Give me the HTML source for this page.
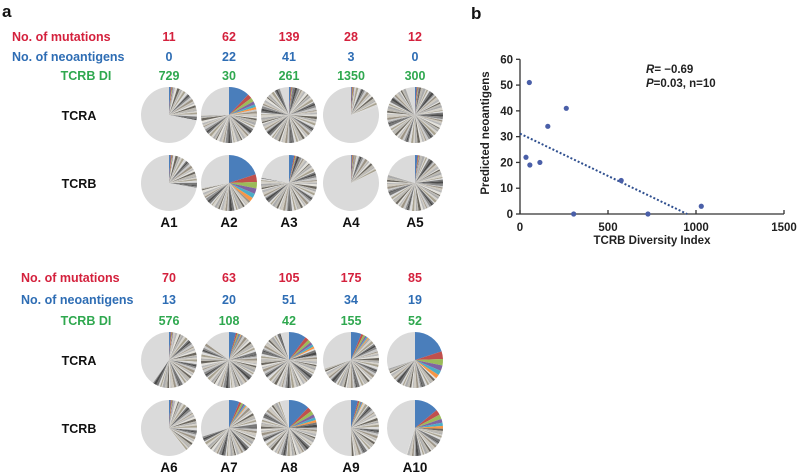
<!DOCTYPE html>
<html><head><meta charset="utf-8"><style>
body{margin:0;background:#fff;width:800px;height:473px;overflow:hidden;font-family:"Liberation Sans",Arial,sans-serif}
svg{position:absolute;left:0;top:0}
</style></head><body>
<svg id="fig" width="800" height="473" viewBox="0 0 800 473" font-family="Liberation Sans, Arial, sans-serif" font-weight="bold"></svg>
<script>
// ---- panel a data ----
const samples=["A1","A2","A3","A4","A5","A6","A7","A8","A9","A10"];
const mutations=[11,62,139,28,12,70,63,105,175,85];
const neoantigens=[0,22,41,3,0,13,20,51,34,19];
const tcrbDI=[729,30,261,1350,300,576,108,42,155,52];
// fraction of large light-gray clone slice, and top clone (blue) fraction
const tcraGray=[0.72,0.25,0.05,0.80,0.05,0.40,0.15,0.05,0.30,0.30];
const tcraTop=[0.01,0.12,0.01,0.005,0.01,0.01,0.04,0.10,0.06,0.20];
const tcrbGray=[0.72,0.28,0.22,0.82,0.20,0.60,0.30,0.05,0.50,0.45];
const tcrbTop=[0.01,0.20,0.03,0.005,0.015,0.01,0.06,0.12,0.04,0.14];
// ---- panel b data ----
const diversity=[34,53,56,113,158,263,305,575,727,1030];
const predNeo=[22,51,19,20,34,41,0,13,0,3];
const xTicks=[0,500,1000,1500];
const yTicks=[0,10,20,30,40,50,60];

const NS="http://www.w3.org/2000/svg";
const svg=document.getElementById('fig');
function mk(tag,attrs,parent){const e=document.createElementNS(NS,tag);for(const k in attrs)e.setAttribute(k,attrs[k]);(parent||svg).appendChild(e);return e;}
function txt(s,x,y,fill,size,anchor,parent){const t=mk('text',{x:x,y:y,fill:fill,'font-size':size,'text-anchor':anchor||'middle'},parent);t.textContent=s;return t;}

let la=txt('a',2,17,'#111',17,'start');



const colX=[169,229,289,351,415];
const groups=[{mut:41,neo:61,di:80,ra:115,rb:183,lab:222,rowX:12},{mut:282,neo:304,di:325,ra:360,rb:428,lab:467,rowX:21}];
const colorsTop=['#4a7ebb','#c0504d','#9bbb59','#8064a2','#4bacc6','#f79646'];
const tones=['#4a4a4a','#b8b8b8','#d6d3cc','#8a8a8a','#e4e2dc','#a8a290','#c9c9c9','#6a665e','#dcdcdc','#9c9486','#bdbab2','#777777','#cfcac0','#aaaaaa'];

function polar(cx,cy,r,a){const rad=(a-90)*Math.PI/180;return [cx+r*Math.cos(rad),cy+r*Math.sin(rad)];}
function wedge(g,cx,cy,r,a0,a1,fill){
  if(a1-a0<=0)return;
  const p0=polar(cx,cy,r,a0),p1=polar(cx,cy,r,a1);
  const large=(a1-a0)>180?1:0;
  const p=mk('path',{d:`M${cx},${cy}L${p0[0].toFixed(2)},${p0[1].toFixed(2)}A${r},${r} 0 ${large} 1 ${p1[0].toFixed(2)},${p1[1].toFixed(2)}Z`,fill:fill},g);
  
  
}
function pie(cx,cy,gray,top,seed,name){
  const g=mk('g',{});
  
  
  const r=28;
  let a=0;
  const topDeg=top*360;
  wedge(g,cx,cy,r,0,topDeg,colorsTop[0]);a=topDeg;
  const colorCount=top>0.03?5:3;
  let cw=Math.max(2,topDeg*0.22);
  for(let i=1;i<=colorCount;i++){wedge(g,cx,cy,r,a,a+cw,colorsTop[i]);a+=cw;cw=Math.max(1.6,cw*0.85);}
  const end=360-gray*360;
  let i=seed;
  while(a<end){let w=2.2+((i*7)%5)*0.8;if(a+w>end)w=end-a;wedge(g,cx,cy,r,a,a+w,tones[i%tones.length]);a+=w;i+=3;}
  wedge(g,cx,cy,r,end,360,'#dadada');
}

groups.forEach((G,gi)=>{
  let t;
  t=txt('No. of mutations',G.rowX,G.mut,'#d4213d',12.5,'start');
  t=txt('No. of neoantigens',G.rowX,G.neo,'#2e6db4',12.5,'start');
  t=txt('TCRB DI',86,G.di,'#2fa84f',12.5,'middle');
  t=txt('TCRA',79,G.ra+5,'#111',12.5,'middle');
  t=txt('TCRB',79,G.rb+5,'#111',12.5,'middle');
  for(let c=0;c<5;c++){
    const k=gi*5+c,x=colX[c];
    t=txt(String(mutations[k]),x,G.mut,'#d4213d',12.5);
    t=txt(String(neoantigens[k]),x,G.neo,'#2e6db4',12.5);
    t=txt(String(tcrbDI[k]),x,G.di,'#2fa84f',12.5);
    pie(x,G.ra,tcraGray[k],tcraTop[k],k*5+1,'tcra-pie-'+samples[k].toLowerCase());
    pie(x,G.rb,tcrbGray[k],tcrbTop[k],k*5+4,'tcrb-pie-'+samples[k].toLowerCase());
    t=txt(samples[k],x,G.lab+5,'#111',13.5);
  }
});

// ---- panel b ----
let lb=txt('b',471,19,'#111',17,'start');


const X0=520,X1=784,Y0=214,Y1=59.3,xMax=1500,yMax=60;
const sx=v=>X0+v*(X1-X0)/xMax, sy=v=>Y0-v*(Y0-Y1)/yMax;
const ax=mk('g',{stroke:'#333','stroke-width':1.3});


mk('line',{x1:X0,y1:Y0,x2:X1,y2:Y0},ax);
mk('line',{x1:X0,y1:Y0,x2:X0,y2:Y1},ax);
xTicks.forEach(v=>{mk('line',{x1:sx(v),y1:Y0,x2:sx(v),y2:Y0-4},ax);
  const t=txt(String(v),sx(v),Y0+17,'#222',11.5);});
yTicks.forEach(v=>{mk('line',{x1:X0-4,y1:sy(v),x2:X0,y2:sy(v)},ax);
  const t=txt(String(v),X0-7,sy(v)+4,'#222',11.5,'end');});
let xt=txt('TCRB Diversity Index',652,244,'#222',11.5);
let yt=txt('Predicted neoantigens',0,0,'#222',11.5);yt.setAttribute('transform','translate(489,133) rotate(-90)');

const n=diversity.length,mx=diversity.reduce((a,b)=>a+b)/n,my=predNeo.reduce((a,b)=>a+b)/n;
let sxy=0,sxx=0;for(let i=0;i<n;i++){sxy+=(diversity[i]-mx)*(predNeo[i]-my);sxx+=(diversity[i]-mx)**2;}
const slope=sxy/sxx,icpt=my-slope*mx;
let xe=slope<0?Math.min(-icpt/slope,xMax):xMax;
const tl=mk('line',{x1:sx(0),y1:sy(icpt),x2:sx(xe),y2:sy(icpt+slope*xe),stroke:'#2f4f8f','stroke-width':2,'stroke-dasharray':'2 2'});

for(let i=0;i<n;i++){const c=mk('circle',{cx:sx(diversity[i]),cy:sy(predNeo[i]),r:2.6,fill:'#4a5fa8'});
  }
const ann=mk('text',{x:646,y:73,'font-size':11.5,fill:'#222'});

ann.innerHTML='<tspan font-style="italic">R</tspan>= −0.69';
const ann2=mk('text',{x:646,y:87,'font-size':11.5,fill:'#222'});

ann2.innerHTML='<tspan font-style="italic">P</tspan>=0.03, n=10';
</script>
</body></html>
